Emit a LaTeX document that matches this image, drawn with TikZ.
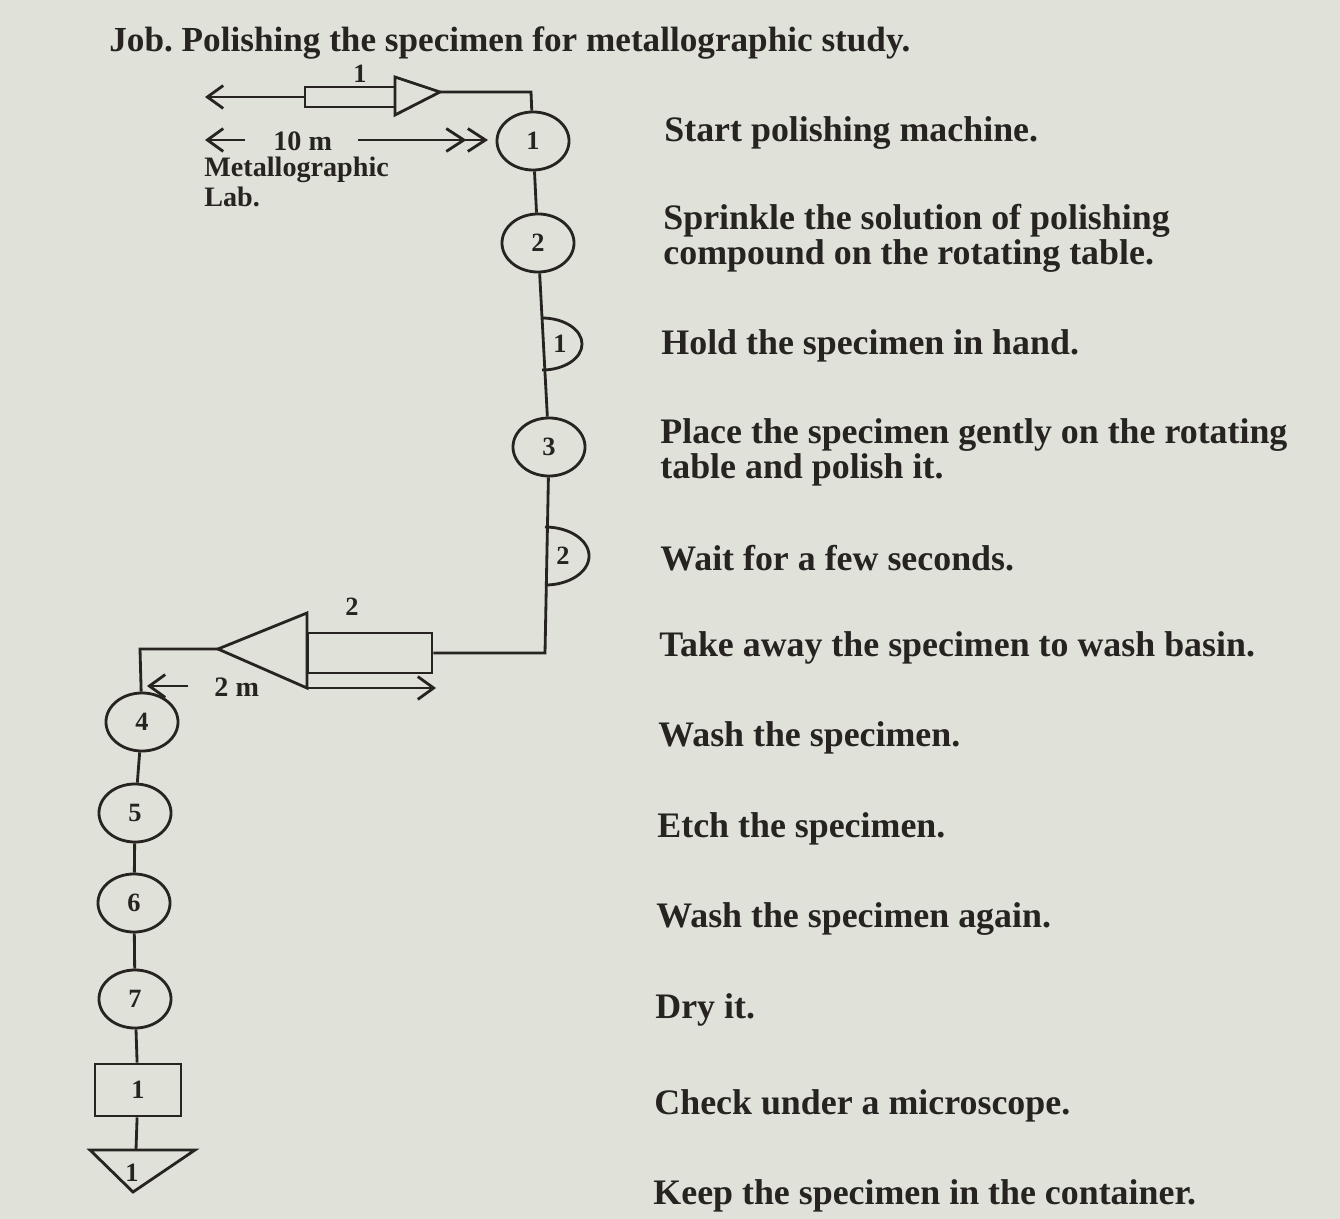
\documentclass[tikz,border=0pt]{standalone}
\usepackage{fontspec}
\setmainfont{Liberation Serif}
\usetikzlibrary{shapes.geometric,arrows.meta}
\definecolor{paper}{RGB}{224,226,218}
\definecolor{ink}{RGB}{38,35,32}
\frenchspacing
\tikzset{
    opnode/.style={draw=ink,ellipse,thick,minimum width=0.72cm,minimum height=0.58cm,inner sep=0pt,font=\fontsize{7.5}{7.5}\selectfont\bfseries},
    inspnode/.style={draw=ink,rectangle,thick,minimum width=0.86cm,minimum height=0.52cm,inner sep=0pt,font=\fontsize{7.5}{7.5}\selectfont\bfseries},
    trbox/.style={draw=ink,rectangle,thick,inner sep=0pt},
    numlbl/.style={inner sep=0pt,font=\fontsize{7.5}{7.5}\selectfont\bfseries},
    steptext/.style={anchor=west,align=left,inner sep=0pt,font=\fontsize{10.2}{10}\selectfont\bfseries},
    distlbl/.style={anchor=west,align=left,inner sep=0pt,font=\fontsize{8}{8.5}\selectfont\bfseries},
    barb/.style={-{Straight Barb[length=4.5pt,width=6.5pt]}},
    dbarb/.style={-{Straight Barb[length=5pt,width=6.5pt]Straight Barb[length=5pt,width=6.5pt]}}
}
\begin{document}
\begin{tikzpicture}[x=0.01cm,y=-0.01cm,thick,draw=ink,text=ink]
        \fill[paper] (0,0) rectangle (1340,1219);
        \useasboundingbox (0,0) rectangle (1340,1219);
        % title
        \node[steptext,font=\fontsize{10}{10}\selectfont\bfseries] (title) at (108,43) {Job. Polishing the specimen for metallographic study.};
        % symbols on the chart
        \node[opnode] (c1) at (533,141) {1};
        \node[opnode] (c2) at (538,243) {2};
        \node[numlbl] (d1) at (560,344) {1};
        \node[opnode] (c3) at (549,447) {3};
        \node[numlbl] (d2) at (563,556) {2};
        \node[opnode] (c4) at (142,722) {4};
        \node[opnode] (c5) at (135,813) {5};
        \node[opnode] (c6) at (134,903) {6};
        \node[opnode] (c7) at (135,999) {7};
        \node[inspnode] (in1) at (138,1090) {1};
        \node[numlbl] (st1) at (132,1173) {1};
        % delay half circles
        \draw (542,318) arc[start angle=90,end angle=-90,x radius=0.4cm,y radius=0.26cm];
        \draw (545,527) arc[start angle=90,end angle=-90,x radius=0.44cm,y radius=0.29cm];
        % storage triangle
        \coordinate (s1) at (136,1150);
        \draw (90,1150) -- (195,1150) -- (133,1192) -- cycle;
        % transport 1
        \node[trbox,minimum width=0.9cm,minimum height=0.2cm] (tr1) at (350,97) {};
        \coordinate (t1) at (440,92);
        \draw (395,77) -- (t1) -- (395,115) -- cycle;
        \node[numlbl] (n1) at (360,74) {1};
        \coordinate (k1) at (531,92);
        \coordinate (e1) at (205,97);
        \draw[barb] (tr1.west) -- (e1);
        % transport 2
        \node[trbox,minimum width=1.24cm,minimum height=0.4cm] (tr2) at (370,653) {};
        \coordinate (t2) at (218,649);
        \draw (307,613) -- (t2) -- (307,688) -- cycle;
        \node[numlbl] (n2) at (352,607) {2};
        \coordinate (k3) at (545,653);
        \coordinate (k4) at (140,649);
        % distances
        \node[distlbl] (dist1) at (272,141) {10 m};
        \draw[barb] (245,140) -- (205,140);
        \draw[dbarb] (358,140) -- (488,140);
        \node[distlbl] (lab) at (203,182) {Metallographic\\Lab.};
        \node[distlbl] (dist2) at (213,687) {2 m};
        \draw[barb] (188,686) -- (147,686);
        \draw[barb] (305,688) -- (436,688);
        % flow lines
        \draw (t1) -- (k1) -- (c1);
        \draw (c1) -- (c2);
        \draw (c2) -- (c3);
        \draw (c3) -- (k3) -- (tr2.east);
        \draw (t2) -- (k4) -- (c4);
        \draw (c4) -- (c5);
        \draw (c5) -- (c6);
        \draw (c6) -- (c7);
        \draw (c7) -- (in1);
        \draw (in1) -- (s1);
        % steps
        \node[steptext] (s01) at (663,133) {Start polishing machine.};
        \node[steptext] (s02) at (662,238) {Sprinkle the solution of polishing\\compound on the rotating table.};
        \node[steptext] (s03) at (660,346) {Hold the specimen in hand.};
        \node[steptext] (s04) at (659,452) {Place the specimen gently on the rotating\\table and polish it.};
        \node[steptext] (s05) at (659,558) {Wait for a few seconds.};
        \node[steptext] (s06) at (658,648) {Take away the specimen to wash basin.};
        \node[steptext] (s07) at (657,738) {Wash the specimen.};
        \node[steptext] (s08) at (656,829) {Etch the specimen.};
        \node[steptext] (s09) at (655,919) {Wash the specimen again.};
        \node[steptext] (s10) at (654,1010) {Dry it.};
        \node[steptext] (s11) at (653,1106) {Check under a microscope.};
        \node[steptext] (s12) at (652,1196) {Keep the specimen in the container.};
    \end{tikzpicture}
\end{document}
